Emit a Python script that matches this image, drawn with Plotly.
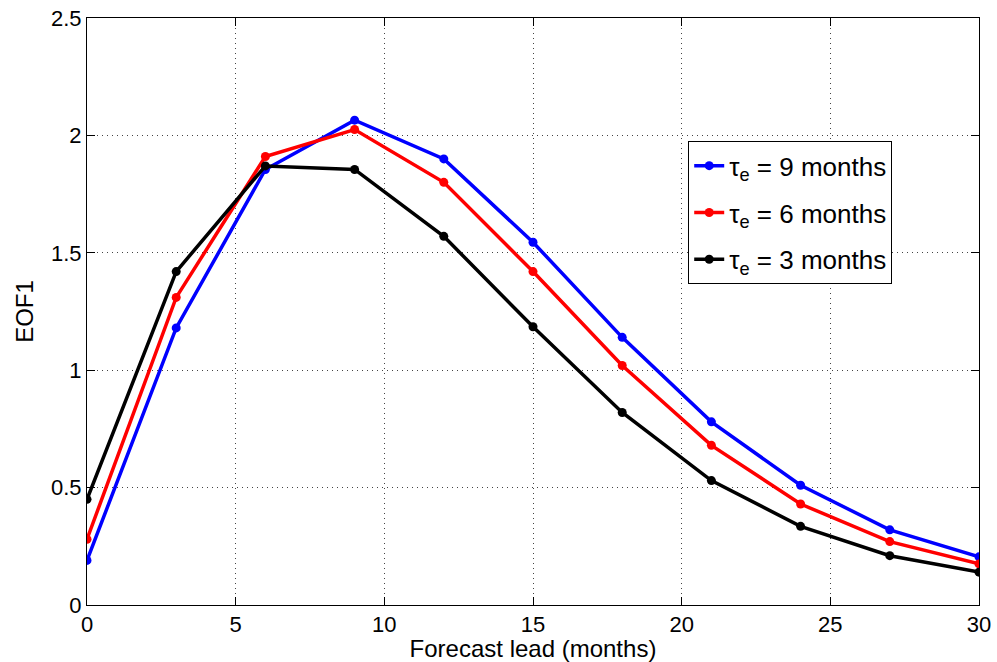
import plotly.graph_objects as go

lead = [0, 3, 6, 9, 12, 15, 18, 21, 24, 27, 30]
eof1_tau9 = [0.19, 1.18, 1.855, 2.065, 1.90, 1.545, 1.14, 0.78, 0.51, 0.32, 0.205]
eof1_tau6 = [0.28, 1.31, 1.91, 2.025, 1.80, 1.42, 1.02, 0.68, 0.43, 0.27, 0.175]
eof1_tau3 = [0.45, 1.42, 1.87, 1.855, 1.57, 1.185, 0.82, 0.53, 0.335, 0.21, 0.14]
series_names = ["τ<sub>e</sub> = 9 months", "τ<sub>e</sub> = 6 months", "τ<sub>e</sub> = 3 months"]
colors = ["#0000ff", "#ff0000", "#000000"]

fig = go.Figure()
for i, (ys, name, c) in enumerate(zip([eof1_tau9, eof1_tau6, eof1_tau3], series_names, colors)):
    fig.add_trace(go.Scatter(
        x=lead, y=ys, name=name, mode="lines+markers", legendgroup=f"g{i}",
        line=dict(color=c, width=3.5),
        marker=dict(color=c, size=9, symbol="circle"),
    ))

font_family = "Liberation Sans, Arial, sans-serif"
axis_common = dict(
    showline=True, linecolor="black", linewidth=1, mirror="ticks",
    ticks="inside", ticklen=8, tickcolor="black",
    showgrid=True, gridcolor="#444444", griddash="1px,4px", gridwidth=1,
    zeroline=False, automargin=False,
    tickfont=dict(family=font_family, size=22, color="black"),
)

fig.update_layout(
    width=997, height=662,
    margin=dict(l=87, r=18, t=18, b=57),
    paper_bgcolor="white", plot_bgcolor="white",
    font=dict(family=font_family, color="black"),
    xaxis=dict(range=[0, 30], tickvals=[0, 5, 10, 15, 20, 25, 30],
               title=dict(text="Forecast lead (months)", font=dict(size=24), standoff=4),
               **axis_common),
    yaxis=dict(range=[0, 2.5], tickvals=[0, 0.5, 1, 1.5, 2, 2.5],
               ticktext=["0", "0.5", "1", "1.5", "2", "2.5"],
               title=dict(text="EOF1", font=dict(size=24), standoff=10),
               **axis_common),
    legend=dict(
        x=0.674, y=0.79, xanchor="left", yanchor="top",
        bgcolor="white", bordercolor="black", borderwidth=1,
        font=dict(family=font_family, size=26, color="black"),
        tracegroupgap=10,
    ),
    showlegend=True,
)

fig.write_html("out.html")
